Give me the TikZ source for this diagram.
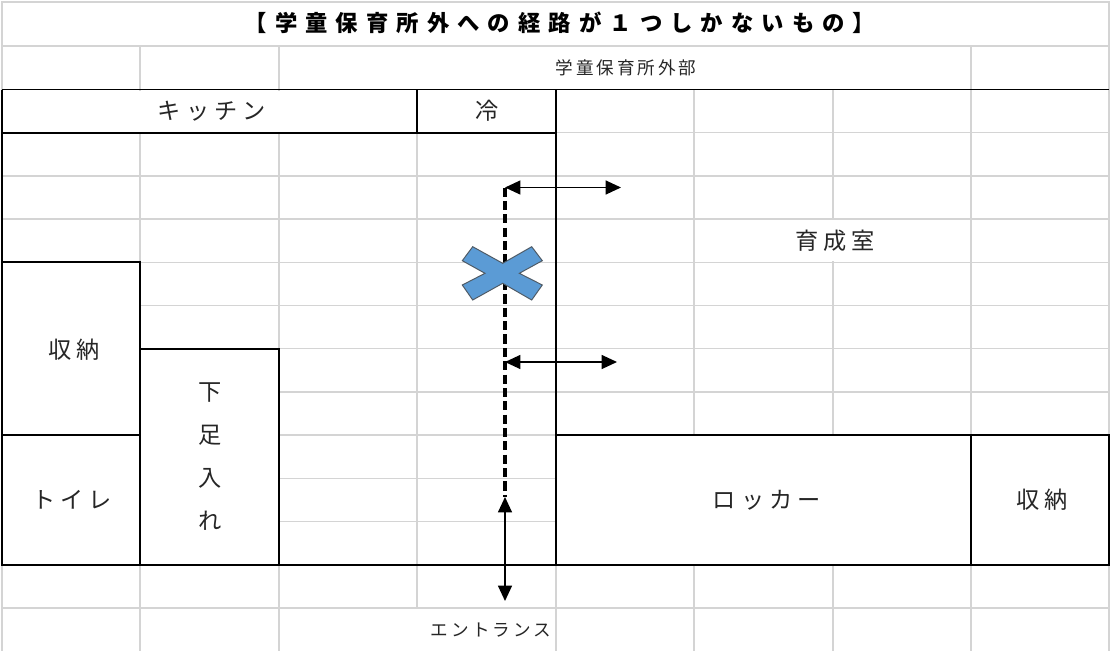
\documentclass[tikz,border=0pt]{standalone}
\usepackage{fontspec}
\usepackage{xcolor}
\usepackage{tikz}
\usetikzlibrary{arrows.meta}
\newfontfamily\jpfont{Noto Sans CJK JP}
\definecolor{gridgray}{HTML}{D4D4D4}
\definecolor{crossblue}{HTML}{5B9BD5}
\definecolor{crossedge}{HTML}{4F5B66}
\tikzset{
	gridline/.style={draw=gridgray, line width=0.9pt},
	wall/.style={draw=black, line width=1.4pt},
	roomlabel/.style={font=\jpfont\fontsize{16.5}{19}\selectfont\addfontfeature{LetterSpace=22}, text=black!85, inner sep=0pt},
	smalllabel/.style={font=\jpfont\fontsize{12.5}{15}\selectfont\addfontfeature{LetterSpace=17}, text=black!85, inner sep=0pt},
	titlelabel/.style={font=\jpfont\bfseries\fontsize{15.9}{19}\selectfont\addfontfeature{LetterSpace=36}, inner sep=0pt},
	columnlabel/.style={font=\jpfont\fontsize{16.5}{30.7}\selectfont, text=black!85, align=center, inner sep=0pt},
	route/.style={line width=2.4pt, dash pattern=on 6.5pt off 3pt},
	exit/.style={line width=1pt, {Triangle[length=11pt,width=10pt]}-{Triangle[length=11pt,width=10pt]}}
}

\begin{document}
\begin{tikzpicture}[x=0.025cm, y=-0.025cm, >=Stealth]
		\useasboundingbox (0,0) rectangle (1110,651);

		% Sheet grid
		\draw[gridline] (2,2) rectangle (1109,46);
		\foreach \y in {46,89.5,132.7,175.9,219.1,262.3,305.5,348.7,391.9,435.1,478.3,521.5,564.7,607.9}
			\draw[gridline] (2,\y) -- (1109,\y);
		\foreach \x in {2,140,279,417,556,694,833,971,1109}
			\draw[gridline] (\x,46) -- (\x,651);

		% Merged cells
		\fill[white] (280,47) rectangle (970,88.5);
		\fill[white] (3,90.5) rectangle (416,131.7);
		\fill[white] (695,220.1) rectangle (970,261.3);
		\fill[white] (3,263.3) rectangle (139,563.7);
		\fill[white] (141,349.7) rectangle (278,563.7);
		\fill[white] (557,436.1) rectangle (1108,563.7);
		\fill[white] (280,608.9) rectangle (555,651);

		% Walls
		\draw[wall] (2,89.5) -- (1109,89.5);
		\draw[wall] (2,132.7) -- (556,132.7);
		\draw[wall] (417,89.5) -- (417,132.7);
		\draw[wall] (2,89.5) -- (2,564.7) -- (1109,564.7) -- (1109,435.1) -- (556,435.1);
		\draw[wall] (556,89.5) -- (556,564.7);
		\draw[wall] (2,262.3) -- (140,262.3) -- (140,564.7);
		\draw[wall] (2,435.1) -- (140,435.1);
		\draw[wall] (140,348.7) -- (279,348.7) -- (279,564.7);
		\draw[wall] (971,435.1) -- (971,564.7);

		% Room names
		\node[titlelabel] (title) at (560,23) {【学童保育所外への経路が１つしかないもの】};
		\node[smalllabel] (outside) at (626,68) {学童保育所外部};
		\node[roomlabel] (kitchen) at (212,111) {キッチン};
		\node[roomlabel] (fridge) at (487,111) {冷};
		\node[roomlabel] (playroom) at (835,241) {育成室};
		\node[roomlabel] (storeleft) at (74,350) {収納};
		\node[columnlabel] (shoes) at (210,456.7) {下\\足\\入\\れ};
		\node[roomlabel] (toilet) at (72,500) {トイレ};
		\node[roomlabel] (locker) at (767,500) {ロッカー};
		\node[roomlabel] (storeright) at (1042,500) {収納};
		\node[smalllabel] (entrance) at (491,630) {エントランス};

		% Route to the outside
		\coordinate (routetop) at (505,187.5);
		\coordinate (routemid) at (505,362);
		\coordinate (routeend) at (505,497);
		\coordinate (exitone) at (621,187.5);
		\coordinate (exittwo) at (617,362);
		\coordinate (exitdoor) at (505,601);
		\draw[route] (routetop) -- (routeend);
		\draw[exit] (routetop) -- (exitone);
		\draw[exit] (routemid) -- (exittwo);
		\draw[exit] (routeend) -- (exitdoor);

		% Blocked path (cross)
		\filldraw[fill=crossblue, draw=crossedge, line width=0.7pt] (462.3,260.7) -- (472.7,246.7) -- (502.7,263.3) -- (531.7,246.7) -- (542.3,260.7) -- (519.3,273.3) -- (542.3,285) -- (531.7,300) -- (502.7,283.3) -- (472.7,300) -- (462.3,285) -- (485,273.3) -- cycle;
	\end{tikzpicture}
\end{document}
